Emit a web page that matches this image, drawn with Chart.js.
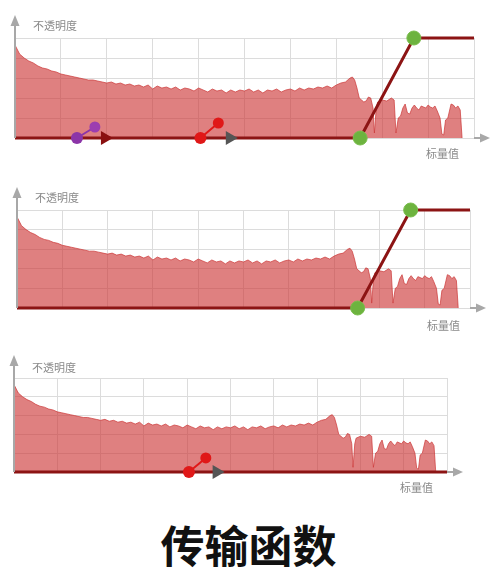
<!DOCTYPE html>
<html><head><meta charset="utf-8">
<script src="https://cdn.jsdelivr.net/npm/chart.js@4"></script>
<style>
html,body{margin:0;padding:0;background:#fff;width:497px;height:577px;overflow:hidden;font-family:"Noto Sans CJK SC","Noto Sans",sans-serif}
.c{position:absolute;left:0;width:497px}
.lbl{position:absolute;font-size:11px;color:#8a8a8a;line-height:12px;white-space:nowrap}
#title{position:absolute;left:0;width:497px;top:518px;text-align:center;font-size:44px;font-weight:700;color:#111;line-height:52px}
</style></head><body>
<div class="c" style="top:0;height:165px"><canvas id="c1"></canvas></div>
<div class="c" style="top:170px;height:165px"><canvas id="c2"></canvas></div>
<div class="c" style="top:340px;height:150px"><canvas id="c3"></canvas></div>
<div class="lbl" style="left:33px;top:19px">不透明度</div>
<div class="lbl" style="left:426px;top:147px">标量值</div>
<div class="lbl" style="left:35px;top:191px">不透明度</div>
<div class="lbl" style="left:427px;top:319px">标量值</div>
<div class="lbl" style="left:32px;top:361px">不透明度</div>
<div class="lbl" style="left:400px;top:481px">标量值</div>
<div id="title">传输函数</div>
<script>
// Scalar-value histogram: bin positions (0..100 = axis range) and heights (fraction of plot height)
const histX = [
0,1,2,3,4,5,6,7,8,9,
10,11,12,13,14,15,16,17,18,19,
20,21,22,23,24,25,26,27,28,29,
30,31,32,33,34,35,36,37,38,39,
40,41,42,43,44,45,46,47,48,49,
50,51,52,53,54,55,56,57,58,59,
60,61,62,63,64,65,66,67,68,69,
70,71,72,73,73.5,74,74.5,75,75.5,76,76.5,77,77.5,78,78.3,78.7,79,80,81,82,82.6,
83,83.5,84,84.5,85,85.5,86,86.5,87,87.5,88,88.5,89,89.5,90,90.5,91,91.5,92,92.6,
93,93.4,93.8,94.3,95,95.5,96,96.5,97,97.4
];
const histValues = [
0.93,0.84,0.80,0.77,0.75,0.72,0.70,0.69,0.67,0.66,
0.64,0.63,0.62,0.61,0.60,0.59,0.58,0.58,0.57,0.56,
0.55,0.56,0.54,0.55,0.53,0.54,0.52,0.53,0.51,0.53,
0.49,0.52,0.50,0.51,0.49,0.51,0.48,0.50,0.49,0.47,
0.50,0.48,0.46,0.49,0.47,0.48,0.45,0.48,0.46,0.48,
0.47,0.49,0.46,0.48,0.45,0.48,0.47,0.49,0.46,0.48,
0.49,0.47,0.50,0.48,0.50,0.49,0.51,0.50,0.52,0.50,
0.53,0.55,0.56,0.60,0.61,0.58,0.50,0.40,0.38,0.36,0.37,0.41,0.40,0.30,0.05,0.30,0.36,0.38,0.37,0.40,0.38,
0.05,0.20,0.22,0.30,0.34,0.25,0.24,0.30,0.33,0.30,0.28,0.32,0.31,0.30,0.33,0.31,0.30,0.32,0.27,0.20,
0.04,0.03,0.18,0.20,0.34,0.33,0.30,0.32,0.28,0.00
];
// Opacity transfer functions
const tfRampX = [0, 75.2, 86.9, 100];
const tfRampY = [0, 0, 1, 1];
const tfFlatX = [0, 100];
const tfFlatY = [0, 0];
// Colour-map node glyphs
const glyphPurpleX = [13.5, 17.4, 19.6];
const glyphPurpleY = [0, 0.11, 0];
const glyphRedX = [40.4, 44.3, 46.8];
const glyphRedY = [0, 0.15, 0];

const pts = (xs, ys) => xs.map((x, i) => ({x, y: ys[i]}));
const histData = pts(histX, histValues);

const arrowPlugin = {
  id: 'arrows',
  afterDraw(chart) {
    const {ctx, chartArea: a} = chart;
    ctx.save();
    ctx.strokeStyle = '#a8a8a8'; ctx.fillStyle = '#a8a8a8'; ctx.lineWidth = 2;
    ctx.beginPath(); ctx.moveTo(a.left, a.bottom); ctx.lineTo(a.left, a.top - 14); ctx.stroke();
    ctx.beginPath(); ctx.moveTo(a.left - 4.5, a.top - 12); ctx.lineTo(a.left + 4.5, a.top - 12); ctx.lineTo(a.left, a.top - 23); ctx.closePath(); ctx.fill();
    ctx.beginPath(); ctx.moveTo(a.right, a.bottom); ctx.lineTo(a.right + 8, a.bottom); ctx.stroke();
    ctx.beginPath(); ctx.moveTo(a.right + 6, a.bottom - 4.5); ctx.lineTo(a.right + 6, a.bottom + 4.5); ctx.lineTo(a.right + 16, a.bottom); ctx.closePath(); ctx.fill();
    ctx.restore();
  }
};

function glyph(xs, ys, c1, c2, c3) {
  return {
    type: 'line', data: pts(xs, ys), order: 1, clip: false,
    borderColor: c1, borderWidth: 2,
    segment: {borderColor: s => s.p0DataIndex === 0 ? c1 : 'rgba(0,0,0,0)'},
    pointStyle: ['circle', 'circle', 'triangle'],
    pointRotation: [0, 0, 90],
    pointRadius: [6, 5.5, 8],
    pointBackgroundColor: [c1, c2, c3],
    pointBorderColor: [c1, c2, c3],
    pointBorderWidth: 0
  };
}

function makeChart(id, padding, tfX, tfY, showNodes, glyphs) {
  const datasets = [
    {type: 'line', data: histData, order: 3, fill: 'origin',
     backgroundColor: 'rgba(204,50,50,0.62)', borderColor: 'rgba(204,56,56,0.7)', borderWidth: 1,
     pointRadius: 0, tension: 0},
    {type: 'line', data: pts(tfX, tfY), order: 2, clip: false, fill: false,
     borderColor: '#8c1414', borderWidth: 3, tension: 0,
     pointRadius: tfX.map((x, i) => (showNodes && i > 0 && i < tfX.length - 1) ? 7 : 0),
     pointBackgroundColor: '#6db33f', pointBorderColor: '#79bd4c', pointBorderWidth: 1}
  ].concat(glyphs);
  return new Chart(document.getElementById(id), {
    data: {datasets},
    plugins: [arrowPlugin],
    options: {
      responsive: true, maintainAspectRatio: false, animation: false,
      layout: {padding},
      plugins: {legend: {display: false}, tooltip: {enabled: false}},
      scales: {
        x: {type: 'linear', min: 0, max: 100,
            ticks: {display: false, stepSize: 10}, grid: {color: '#dcdcdc', lineWidth: 1, drawTicks: false},
            border: {display: false}},
        y: {min: 0, max: 1,
            ticks: {display: false, stepSize: 0.2}, grid: {color: '#dcdcdc', lineWidth: 1, drawTicks: false},
            border: {display: false}}
      }
    }
  });
}

makeChart('c1', {left: 15, top: 38, right: 23, bottom: 27}, tfRampX, tfRampY, true,
  [glyph(glyphPurpleX, glyphPurpleY, '#8c35a8', '#9c3db0', '#8a1010'),
   glyph(glyphRedX, glyphRedY, '#e01818', '#e01818', '#555555')]);
makeChart('c2', {left: 17, top: 40, right: 27, bottom: 27}, tfRampX, tfRampY, true, []);
makeChart('c3', {left: 14, top: 38, right: 50, bottom: 18}, tfFlatX, tfFlatY, false,
  [glyph(glyphRedX, glyphRedY, '#e01818', '#e01818', '#555555')]);
</script>
</body></html>
